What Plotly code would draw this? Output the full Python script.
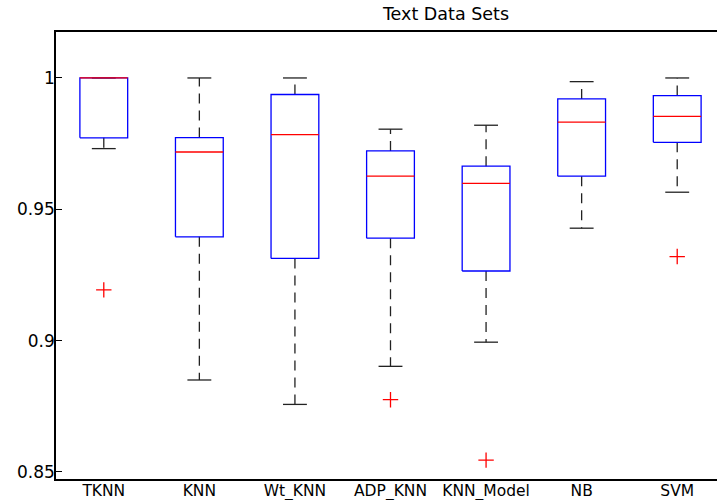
import plotly.graph_objects as go

categories = ["TKNN", "KNN", "Wt_KNN", "ADP_KNN", "KNN_Model", "NB", "SVM"]
upper_whisker = [1.0000, 1.0000, 1.0000, 0.9805, 0.9820, 0.9986, 1.0000]
q3 = [1.0000, 0.9773, 0.9937, 0.9722, 0.9664, 0.9920, 0.9933]
median = [1.0000, 0.9718, 0.9784, 0.9626, 0.9599, 0.9832, 0.9854]
q1 = [0.9772, 0.9395, 0.9313, 0.9390, 0.9265, 0.9626, 0.9755]
lower_whisker = [0.9731, 0.8850, 0.8757, 0.8902, 0.8994, 0.9428, 0.9565]
outlier_cat = ["TKNN", "ADP_KNN", "KNN_Model", "SVM"]
outlier_val = [0.9193, 0.8775, 0.8545, 0.9320]
ytick_vals = [0.85, 0.9, 0.95, 1.0]
ytick_text = ["0.85", "0.9", "0.95", "1"]

pos = list(range(1, len(categories) + 1))
hw = 0.25   # half box width
cw = 0.125  # half cap width

box_x, box_y = [], []
med_x, med_y = [], []
wh_x, wh_y = [], []
cap_x, cap_y = [], []
for p, lw, a, m, b, uw in zip(pos, lower_whisker, q1, median, q3, upper_whisker):
    box_x += [p - hw, p + hw, p + hw, p - hw, p - hw, None]
    box_y += [a, a, b, b, a, None]
    med_x += [p - hw, p + hw, None]
    med_y += [m, m, None]
    wh_x += [p, p, None, p, p, None]
    wh_y += [b, uw, None, a, lw, None]
    cap_x += [p - cw, p + cw, None, p - cw, p + cw, None]
    cap_y += [uw, uw, None, lw, lw, None]

out_x = [pos[categories.index(c)] for c in outlier_cat]

fig = go.Figure()
fig.add_trace(go.Scatter(x=wh_x, y=wh_y, mode="lines",
                         line=dict(color="#222222", width=1.3, dash="10px,7px"),
                         hoverinfo="skip"))
fig.add_trace(go.Scatter(x=cap_x, y=cap_y, mode="lines",
                         line=dict(color="#222222", width=1.3), hoverinfo="skip"))
fig.add_trace(go.Scatter(x=box_x, y=box_y, mode="lines",
                         line=dict(color="blue", width=1.3), hoverinfo="skip"))
fig.add_trace(go.Scatter(x=med_x, y=med_y, mode="lines",
                         line=dict(color="red", width=1.3), hoverinfo="skip"))
fig.add_trace(go.Scatter(x=out_x, y=outlier_val, mode="markers",
                         marker=dict(symbol="cross-thin", size=11,
                                     line=dict(color="red", width=1.3))))

fig.update_layout(
    width=717, height=500,
    margin=dict(l=56, r=0, t=32, b=21, autoexpand=False),
    paper_bgcolor="white", plot_bgcolor="white",
    showlegend=False,
    font=dict(family="DejaVu Sans, sans-serif", size=16, color="black"),
    title=dict(text="Text Data Sets", x=(56 + 390) / 717, xanchor="center",
               y=1 - 14 / 500, yanchor="middle",
               font=dict(size=17.5, color="black")),
    xaxis=dict(range=[0.5, 7.5 - 8 / 95.57], tickmode="array", tickvals=pos,
               ticktext=categories, showgrid=False, zeroline=False,
               showline=True, linecolor="black", linewidth=1.5, mirror=True,
               ticks="", tickfont=dict(size=15.5), automargin=False,
               ticklabelstandoff=-3),
    yaxis=dict(range=[0.8473, 1.0175], tickmode="array", tickvals=ytick_vals,
               ticktext=ytick_text, showgrid=False, zeroline=False,
               showline=True, linecolor="black", linewidth=1.5, mirror=False,
               ticks="inside", ticklen=6, tickcolor="black", tickwidth=1,
               tickfont=dict(size=17), automargin=False,
               ticklabelstandoff=-4),
)

fig.write_html("out.html", config={"displayModeBar": False},
               post_script="document.body.style.margin='0px';document.body.style.padding='0px';")
